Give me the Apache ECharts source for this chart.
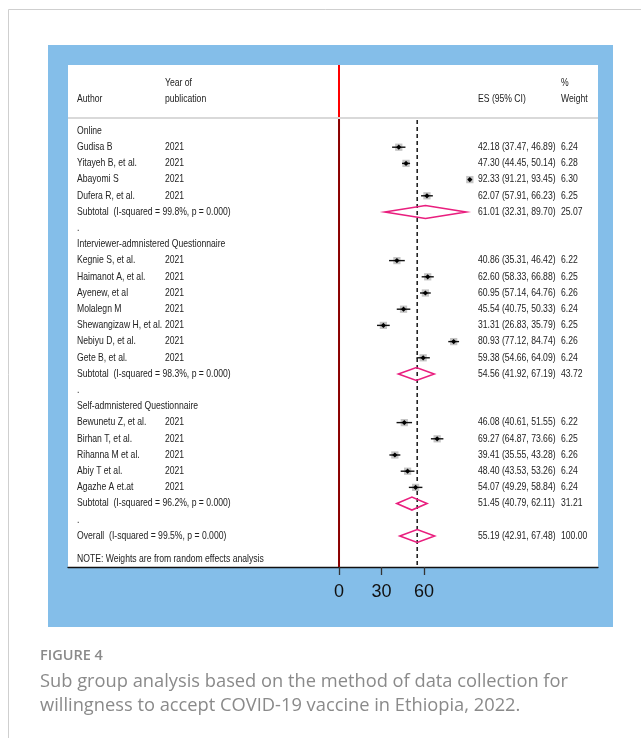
<!DOCTYPE html>
<html><head><meta charset="utf-8">
<script src="https://cdn.jsdelivr.net/npm/echarts@6/dist/echarts.min.js"></script>
<style>html,body{margin:0;padding:0;background:#fff}#c{width:641px;height:738px}</style>
</head><body><div id="c"></div>
<script>
// ---- data ----
const rowLabels = [
  "Online", "Gudisa B", "Yitayeh B, et al.", "Abayomi S", "Dufera R, et al.",
  "Subtotal  (I-squared = 99.8%, p = 0.000)", ".",
  "Interviewer-admnistered Questionnaire", "Kegnie S, et al.", "Haimanot A, et al.", "Ayenew, et al",
  "Molalegn M", "Shewangizaw H, et al.", "Nebiyu D, et al.", "Gete B, et al.",
  "Subtotal  (I-squared = 98.3%, p = 0.000)", ".",
  "Self-admnistered Questionnaire", "Bewunetu Z, et al.", "Birhan T, et al.", "Rihanna M et al.",
  "Abiy T et al.", "Agazhe A et.at",
  "Subtotal  (I-squared = 96.2%, p = 0.000)", ".",
  "Overall  (I-squared = 99.5%, p = 0.000)"
];
const rowYears = [
  "", "2021", "2021", "2021", "2021", "", "",
  "", "2021", "2021", "2021", "2021", "2021", "2021", "2021", "", "",
  "", "2021", "2021", "2021", "2021", "2021", "", "",
  ""
];
// s = study, d = pooled (diamond), other = text only
const rowType = [
  "g", "s", "s", "s", "s", "d", ".",
  "g", "s", "s", "s", "s", "s", "s", "s", "d", ".",
  "g", "s", "s", "s", "s", "s", "d", ".",
  "d"
];
const rowES = [null, 42.18, 47.30, 92.33, 62.07, 61.01, null,
  null, 40.86, 62.60, 60.95, 45.54, 31.31, 80.93, 59.38, 54.56, null,
  null, 46.08, 69.27, 39.41, 48.40, 54.07, 51.45, null, 55.19];
const rowLo = [null, 37.47, 44.45, 91.21, 57.91, 32.31, null,
  null, 35.31, 58.33, 57.14, 40.75, 26.83, 77.12, 54.66, 41.92, null,
  null, 40.61, 64.87, 35.55, 43.53, 49.29, 40.79, null, 42.91];
const rowHi = [null, 46.89, 50.14, 93.45, 66.23, 89.70, null,
  null, 46.42, 66.88, 64.76, 50.33, 35.79, 84.74, 64.09, 67.19, null,
  null, 51.55, 73.66, 43.28, 53.26, 58.84, 62.11, null, 67.48];
const rowWeight = [null, 6.24, 6.28, 6.30, 6.25, 25.07, null,
  null, 6.22, 6.25, 6.26, 6.24, 6.25, 6.26, 6.24, 43.72, null,
  null, 6.22, 6.25, 6.26, 6.24, 6.24, 31.21, null, 100.00];
const overallES = 55.19;
const xTicks = [0, 30, 60];
const headerAuthor = "Author";
const headerYear = ["Year of", "publication"];
const headerES = "ES (95% CI)";
const headerWeight = ["%", "Weight"];
const noteText = "NOTE: Weights are from random effects analysis";
const captionLabel = "FIGURE 4";
const captionLines = ["Sub group analysis based on the method of data collection for",
  "willingness to accept COVID-19 vaccine in Ethiopia, 2022."];

// ---- layout constants ----
const FONT = "'Liberation Sans',Arial,sans-serif";
const FS = 10.5;
const NARROW = 0.82;
const TXT = '#222';
const X_AUTHOR = 77, X_YEAR = 165, X_ES = 478, X_W = 561;
const Y_HEAD1 = -2.96, Y_HEAD2 = -1.98, Y_SEP = -0.80, Y_NOTE = 26.42;
const Y_MIN = -4.074, Y_MAX = 26.914;
const PINK = '#e91e7e';

const chart = echarts.init(document.getElementById('c'), null, {renderer: 'canvas'});

function txt(x, y, s) {
  return {
    type: 'text', x: x, y: y, scaleX: NARROW, scaleY: 1,
    style: {text: s, x: 0, y: 0, fill: TXT, fontSize: FS, fontFamily: FONT, verticalAlign: 'middle', align: 'left'}
  };
}

const option = {
  animation: false,
  backgroundColor: '#fff',
  grid: {left: 68, top: 65, width: 530, height: 502, containLabel: false},
  xAxis: {
    type: 'value', min: -191.3, max: 182.8,
    splitLine: {show: false},
    axisLine: {show: true, onZero: false, lineStyle: {color: '#111', width: 1.3}},
    axisTick: {show: true, customValues: xTicks, length: 8, inside: false, lineStyle: {color: '#333', width: 1.3}},
    axisLabel: {show: true, customValues: xTicks, fontSize: 18, color: '#111', fontFamily: FONT, margin: 16}
  },
  yAxis: {type: 'value', inverse: true, min: Y_MIN, max: Y_MAX, show: false},
  graphic: [
    {type: 'rect', z: -100, shape: {x: 8.5, y: 9.5, width: 700, height: 800}, style: {fill: '#fff', stroke: '#cfcfcf', lineWidth: 1}},
    {type: 'rect', z: -90, shape: {x: 48, y: 45, width: 565, height: 582}, style: {fill: '#84bee9'}},
    {type: 'rect', z: -80, shape: {x: 68, y: 65, width: 530, height: 502}, style: {fill: '#fff'}},
    {type: 'text', x: 40, y: 648, style: {text: captionLabel, fill: '#8a8a8a', fontSize: 14.5, fontWeight: 600, fontFamily: "'Open Sans','Noto Sans',sans-serif"}},
    {type: 'text', x: 40, y: 670, style: {text: captionLines.join('\n'), fill: '#8a8a8a', fontSize: 18.3, lineHeight: 24, fontFamily: "'Open Sans','Noto Sans',sans-serif"}}
  ],
  series: [
    // reference lines (null line and overall line) + header separator
    {
      type: 'custom', silent: true, clip: false, z: 1,
      data: [[0]],
      renderItem: function (params, api) {
        const top = api.coord([0, Y_MIN]);
        const sep = api.coord([0, Y_SEP]);
        const bot = api.coord([0, Y_MAX]);
        const ov = api.coord([overallES, Y_SEP]);
        const ovb = api.coord([overallES, Y_MAX]);
        const cs = params.coordSys;
        return {type: 'group', children: [
          {type: 'line', shape: {x1: cs.x, y1: sep[1], x2: cs.x + cs.width, y2: sep[1]}, style: {stroke: '#d9d9d9', lineWidth: 2}},
          {type: 'line', shape: {x1: top[0], y1: top[1], x2: sep[0], y2: sep[1] - 1}, style: {stroke: '#ff0000', lineWidth: 2}},
          {type: 'line', shape: {x1: sep[0], y1: sep[1] + 1, x2: bot[0], y2: bot[1]}, style: {stroke: '#8b0000', lineWidth: 2}},
          {type: 'line', shape: {x1: ov[0], y1: ov[1] + 2, x2: ovb[0], y2: ovb[1]}, style: {stroke: '#222', lineWidth: 1.6, lineDash: [4, 3]}}
        ]};
      }
    },
    // table text
    {
      type: 'custom', silent: true, clip: false, z: 3,
      data: rowLabels.map(function (_, i) { return [0, i]; }),
      renderItem: function (params, api) {
        const i = api.value(1);
        const y = api.coord([0, i])[1];
        const ch = [txt(X_AUTHOR, y, rowLabels[i])];
        if (rowYears[i]) ch.push(txt(X_YEAR, y, rowYears[i]));
        if (rowES[i] != null) {
          ch.push(txt(X_ES, y, rowES[i].toFixed(2) + ' (' + rowLo[i].toFixed(2) + ', ' + rowHi[i].toFixed(2) + ')'));
          ch.push(txt(X_W, y, rowWeight[i].toFixed(2)));
        }
        if (i === 0) {
          const h1 = api.coord([0, Y_HEAD1])[1], h2 = api.coord([0, Y_HEAD2])[1];
          const yn = api.coord([0, Y_NOTE])[1];
          ch.push(txt(X_AUTHOR, h2, headerAuthor));
          ch.push(txt(X_YEAR, h1, headerYear[0]));
          ch.push(txt(X_YEAR, h2, headerYear[1]));
          ch.push(txt(X_ES, h2, headerES));
          ch.push(txt(X_W, h1, headerWeight[0]));
          ch.push(txt(X_W, h2, headerWeight[1]));
          ch.push(txt(X_AUTHOR, yn, noteText));
        }
        return {type: 'group', children: ch};
      }
    },
    // estimates
    {
      type: 'custom', silent: true, clip: false, z: 4,
      data: rowES.map(function (v, i) { return v == null ? null : [v, i, rowLo[i], rowHi[i], rowWeight[i]]; }).filter(Boolean),
      encode: {x: [0, 2, 3], y: 1},
      renderItem: function (params, api) {
        const i = api.value(1);
        const c = api.coord([api.value(0), i]);
        const lo = api.coord([api.value(2), i]);
        const hi = api.coord([api.value(3), i]);
        if (rowType[i] === 'd') {
          const h = 6.5;
          return {type: 'polygon', shape: {points: [[lo[0], c[1]], [c[0], c[1] - h], [hi[0], c[1]], [c[0], c[1] + h]]},
            style: {fill: 'none', stroke: PINK, lineWidth: 1.6}};
        }
        const s = Math.sqrt(api.value(4)) * 2.9;
        const d = 2.6;
        return {type: 'group', children: [
          {type: 'rect', shape: {x: c[0] - s / 2, y: c[1] - s / 2, width: s, height: s}, style: {fill: '#c4c4c4'}},
          {type: 'line', shape: {x1: lo[0], y1: c[1], x2: hi[0], y2: c[1]}, style: {stroke: '#111', lineWidth: 1.4}},
          {type: 'polygon', shape: {points: [[c[0] - d, c[1]], [c[0], c[1] - d], [c[0] + d, c[1]], [c[0], c[1] + d]]}, style: {fill: '#000'}}
        ]};
      }
    }
  ]
};
chart.setOption(option);
</script>
</body></html>
